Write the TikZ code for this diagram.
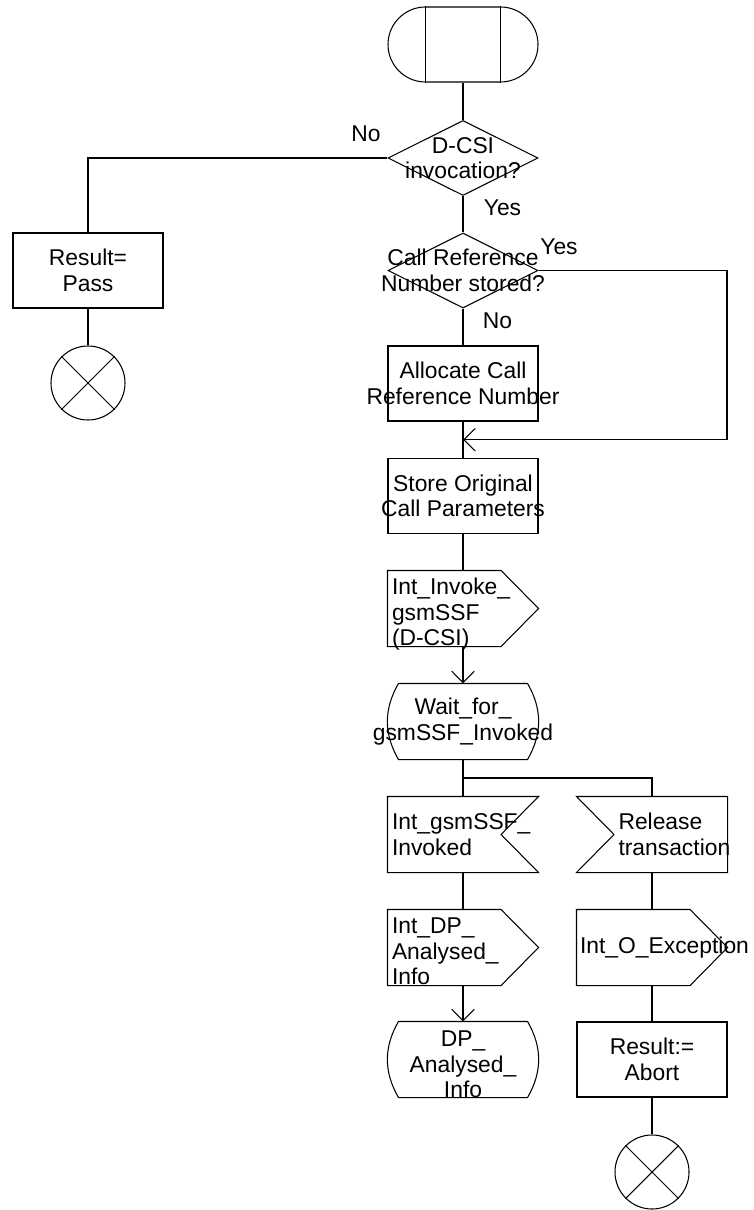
\documentclass[tikz,border=0pt]{standalone}
\usepackage{fontspec}
\setmainfont{Liberation Sans}
\usetikzlibrary{arrows.meta, shapes.geometric, calc}

\begin{document}
\begin{tikzpicture}[line width=0.6pt, font=\fontsize{13}{14.5}\selectfont]

		\tikzstyle{term}=[rectangle, rounded corners=7.5mm, draw, minimum width=3cm, minimum height=1.5cm, inner sep=0pt]
		\tikzstyle{dec}=[diamond, draw, minimum width=3cm, minimum height=1.5cm, inner sep=0pt]
		\tikzstyle{proc}=[rectangle, draw, minimum width=3cm, minimum height=1.5cm, inner sep=0pt]
		\tikzstyle{sdl}=[rectangle, minimum width=3cm, minimum height=1.5cm, inner sep=0pt]
		\tikzstyle{stop}=[circle, draw, minimum size=1.48cm, inner sep=0pt]
		\tikzstyle{txt}=[align=center, inner sep=0pt]
		\tikzstyle{ltxt}=[align=left, inner sep=0pt, anchor=west]
		\tikzstyle{sig}=[-{Straight Barb[length=2.3mm, width=4.5mm]}]

		\useasboundingbox (0,0) rectangle (15.06,-24.2);

		\node[term] (start) at (9.26,-0.89) {};
		\draw ([xshift=-7.5mm]start.north) -- ([xshift=-7.5mm]start.south);
		\draw ([xshift=7.5mm]start.north) -- ([xshift=7.5mm]start.south);

		\node[dec] (dcsi) at (9.26,-3.16) {};
		\node[txt] (t-dcsi) at (dcsi) {D-CSI\\invocation?};
		\node[dec] (crn) at (9.26,-5.41) {};
		\node[txt] (t-crn) at (crn) {Call Reference\\Number stored?};
		\node[proc] (alloc) at (9.26,-7.67) {};
		\node[txt] (t-alloc) at (alloc) {Allocate Call\\Reference Number};
		\node[proc] (store) at (9.26,-9.92) {};
		\node[txt] (t-store) at (store) {Store Original\\Call Parameters};
		\node[sdl] (invoke) at (9.26,-12.17) {};
		\node[ltxt] (t-invoke) at ([xshift=0.8mm, yshift=-1.2mm]invoke.west) {Int\_Invoke\_\\gsmSSF\\(D-CSI)};
		\node[sdl] (wait) at (9.26,-14.43) {};
		\node[txt] (t-wait) at (wait) {Wait\_for\_\\gsmSSF\_Invoked};
		\node[sdl] (invoked) at (9.26,-16.69) {};
		\node[ltxt] (t-invoked) at ([xshift=0.8mm]invoked.west) {Int\_gsmSSF\_\\Invoked};
		\node[sdl] (rel) at (13.04,-16.69) {};
		\node[ltxt] (t-rel) at ([xshift=8.3mm]rel.west) {Release\\transaction};
		\node[sdl] (dpout) at (9.26,-18.95) {};
		\node[ltxt] (t-dpout) at ([xshift=0.8mm, yshift=-0.8mm]dpout.west) {Int\_DP\_\\Analysed\_\\Info};
		\node[sdl] (exc) at (13.04,-18.95) {};
		\node[ltxt] (t-exc) at ([xshift=0.6mm]exc.west) {Int\_O\_Exception};
		\node[sdl] (dpwait) at (9.26,-21.19) {};
		\node[txt] (t-dpwait) at ([yshift=-1mm]dpwait) {DP\_\\Analysed\_\\Info};
		\node[proc] (abort) at (13.04,-21.19) {};
		\node[txt] (t-abort) at (abort) {Result:=\\Abort};
		\node[stop] (end2) at (13.04,-23.44) {};

		\node[proc] (pass) at (1.76,-5.41) {};
		\node[txt] (t-pass) at (pass) {Result=\\Pass};
		\node[stop] (end1) at (1.76,-7.66) {};

		% SDL symbols
		\foreach \s in {invoke, dpout, exc}
			\draw (\s.north west) -- ([xshift=-7.5mm]\s.north east) -- (\s.east) -- ([xshift=-7.5mm]\s.south east) -- (\s.south west) -- cycle;
		\draw (invoked.north west) -- (invoked.north east) -- ([xshift=-7.5mm]invoked.east) -- (invoked.south east) -- (invoked.south west) -- cycle;
		\draw (rel.north east) -- (rel.north west) -- ([xshift=7.5mm]rel.west) -- (rel.south west) -- (rel.south east) -- cycle;
		\foreach \s in {wait, dpwait}
			\draw ([xshift=2.2mm]\s.north west) -- ([xshift=-2.2mm]\s.north east) to[bend left=30] ([xshift=-2.2mm]\s.south east)
				-- ([xshift=2.2mm]\s.south west) to[bend left=30] ([xshift=2.2mm]\s.north west);
		\foreach \s in {end1, end2}
			\draw (\s.north west) -- (\s.south east) (\s.north east) -- (\s.south west);

		% branch labels
		\node (no1) at (7.32,-2.68) {No};
		\node (yes1) at (10.05,-4.16) {Yes};
		\node (yes2) at (11.18,-4.93) {Yes};
		\node (no2) at (9.95,-6.42) {No};

		% flow lines
		\coordinate (c1) at (14.54,-5.41);
		\coordinate (j1) at ($(alloc.south)!0.5!(store.north)$);
		\coordinate (br) at ($(wait.south)!0.5!(invoked.north)$);
		\draw (start) -- (dcsi);
		\draw (dcsi.west) -| (pass.north);
		\draw (pass) -- (end1);
		\draw (dcsi) -- (crn);
		\draw (crn) -- (alloc);
		\draw[sig] (crn.east) -- (c1) |- (j1);
		\draw (alloc) -- (store);
		\draw (store) -- (invoke);
		\draw[sig] (invoke) -- (wait);
		\draw (wait) -- (invoked);
		\draw (br) -| (rel.north);
		\draw (invoked) -- (dpout);
		\draw[sig] (dpout) -- (dpwait);
		\draw (rel) -- (exc);
		\draw (exc) -- (abort);
		\draw (abort) -- (end2);

		\end{tikzpicture}
\end{document}
